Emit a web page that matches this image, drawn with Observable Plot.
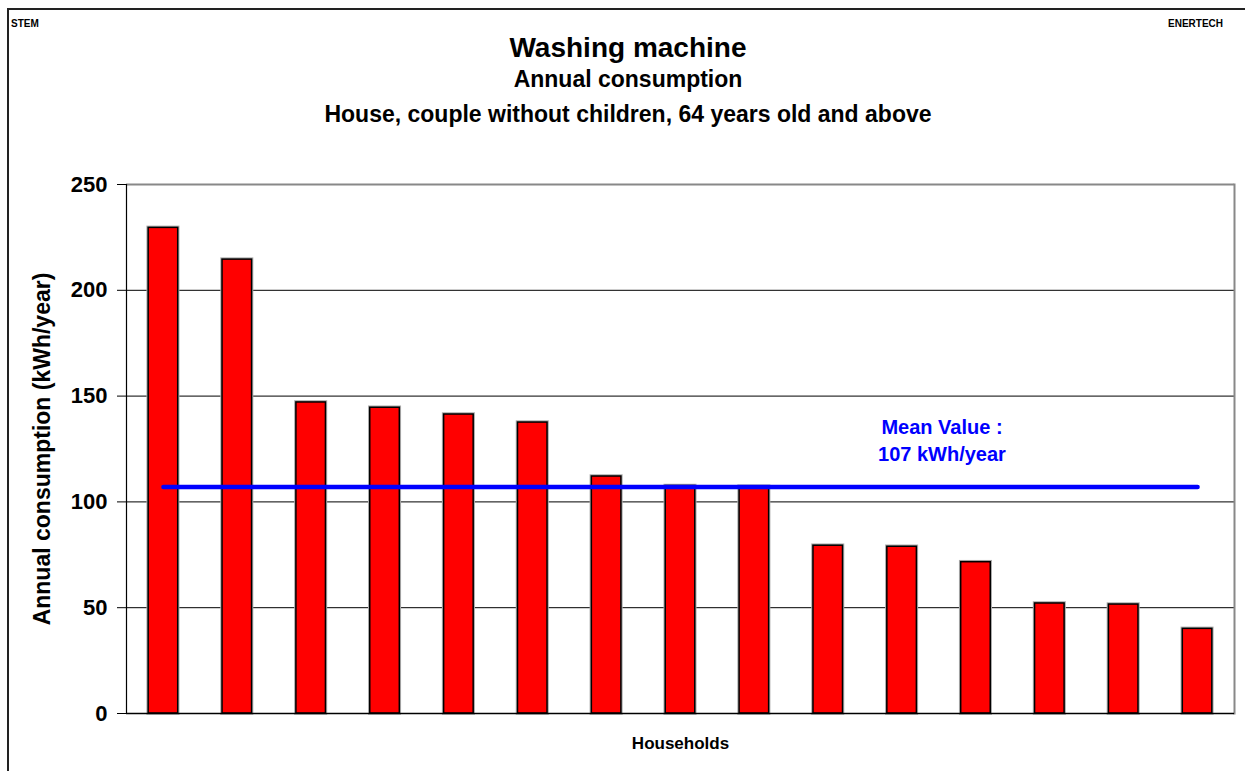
<!DOCTYPE html>
<html>
<head>
<meta charset="utf-8">
<script src="https://cdn.jsdelivr.net/npm/d3@7"></script>
<script src="https://cdn.jsdelivr.net/npm/@observablehq/plot@0.6"></script>
<style>
  body { margin: 0; background: #fff; font-family: "Liberation Sans", Arial, sans-serif; }
  #wrap { position: relative; width: 1245px; height: 771px; overflow: hidden; background: #fff; }
  .frame { position: absolute; left: 7px; top: 8px; width: 1250px; height: 780px; border-left: 2px solid #222; border-top: 2px solid #222; }
  .t { position: absolute; left: 0; width: 1256px; text-align: center; font-weight: bold; color: #000; white-space: nowrap; line-height: 1; }
  .corner { position: absolute; font-weight: bold; font-size: 10px; top: 18px; }
  #chart { position: absolute; left: 0; top: 150px; }
</style>
</head>
<body>
<div id="wrap">
  <div class="frame"></div>
  <div class="corner" style="left:11px;">STEM</div>
  <div class="corner" style="right:22px;">ENERTECH</div>
  <div class="t" style="top:34px; font-size:28px;">Washing machine</div>
  <div class="t" style="top:68px; font-size:23px;">Annual consumption</div>
  <div class="t" style="top:103px; font-size:23px;">House, couple without children, 64 years old and above</div>
  <div id="chart"></div>
</div>
<script>
const households = ["1","2","3","4","5","6","7","8","9","10","11","12","13","14","15"];
const consumption = [229.5, 214.5, 147, 144.5, 141.3, 137.5, 112, 107.5, 107.2, 79.3, 78.8, 71.5, 52, 51.5, 40];
const meanValue = 107;
const yTicks = [0, 50, 100, 150, 200, 250];
const gridTicks = [50, 100, 150, 200];
const meanLabel = "Mean Value :\n107 kWh/year";
const yLabel = "Annual consumption (kWh/year)";
const xLabel = "Households";

const data = households.map((h, i) => ({h, v: consumption[i]}));
const meanLine = [{h: households[0], v: meanValue}, {h: households[households.length - 1], v: meanValue}];

const chart = Plot.plot({
  width: 1245,
  height: 621,
  marginLeft: 126,
  marginRight: 11,
  marginTop: 34,
  marginBottom: 58,
  style: {fontFamily: "'Liberation Sans', Arial, sans-serif", background: "transparent"},
  x: {domain: households, paddingInner: 0.6, paddingOuter: 0.3, round: false, axis: null},
  y: {domain: [0, 250], ticks: yTicks, axis: null},
  marks: [
    Plot.ruleY(gridTicks, {stroke: "#000", strokeWidth: 1}),
    Plot.ruleY([250], {stroke: "#888", strokeWidth: 2}),
    Plot.frame({anchor: "right", stroke: "#888", strokeWidth: 2}),
    Plot.barY(data, {x: "h", y: "v", fill: "none", stroke: "#aaa", strokeWidth: 3.5}),
    Plot.barY(data, {x: "h", y: "v", fill: "#ff0000", stroke: "#000", strokeWidth: 1.5}),
    Plot.ruleY([0], {stroke: "#000", strokeWidth: 1.5}),
    Plot.axisY({ticks: yTicks, tickSize: 9, tickPadding: 10, fontSize: 22, fontWeight: "bold", label: null, stroke: "#000"}),
    Plot.frame({anchor: "left", stroke: "#000", strokeWidth: 1.2}),
    Plot.line(meanLine, {x: "h", y: "v", stroke: "#0000ff", strokeWidth: 4.5, strokeLinecap: "round"}),
    Plot.text([meanLabel], {x: () => households[11], y: () => 130, text: d => d, dx: -34, fill: "#0000ff", fontSize: 20, fontWeight: "bold", lineHeight: 1.35}),
    Plot.text([xLabel], {frameAnchor: "bottom", text: d => d, dy: 35, fontSize: 17, fontWeight: "bold", fill: "#000"}),
    Plot.text([yLabel], {frameAnchor: "left", text: d => d, dx: -84, rotate: -90, textAnchor: "middle", fontSize: 23, fontWeight: "bold", fill: "#000"})
  ]
});
document.getElementById("chart").appendChild(chart);
</script>
</body>
</html>
